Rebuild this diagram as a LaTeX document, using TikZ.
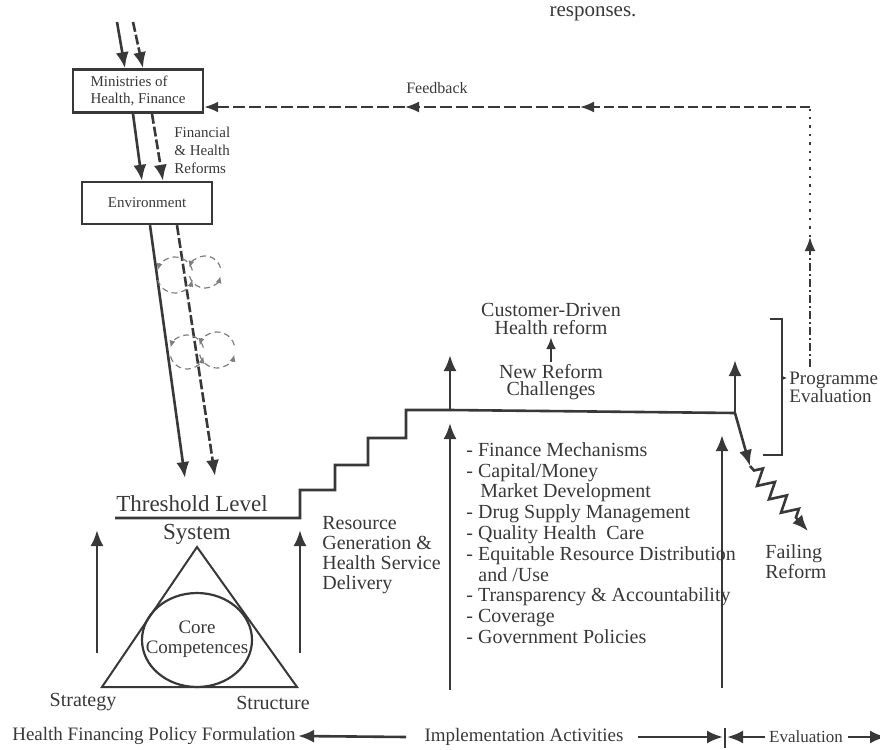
\documentclass[tikz,border=0pt]{standalone}
\usepackage{fontspec}
\setmainfont{Liberation Serif}
\usetikzlibrary{arrows.meta,decorations.pathmorphing}
\definecolor{ink}{HTML}{383838}
\tikzset{
  box/.style={draw=ink, line width=1.2pt, minimum width=65pt, minimum height=21pt,
    text=ink, font=\fontsize{7.5}{8.5}\selectfont, align=left},
  lbl/.style={text=ink, font=\fontsize{10}{10}\selectfont, align=center, inner sep=1pt},
  small/.style={text=ink, font=\fontsize{7.5}{9}\selectfont, align=left, inner sep=1pt},
  arr/.style={draw=ink, line width=1.3pt, -{Latex[length=8pt,width=6.5pt]}},
  dasharr/.style={arr, dash pattern=on 5pt off 1.5pt},
  line/.style={draw=ink, line width=1pt},
  fbline/.style={draw=ink, line width=1pt},
  cyc/.style={draw=ink!65, line width=0.6pt, densely dashed, -{Latex[length=3.5pt,width=3pt]}},
}
\begin{document}
\begin{tikzpicture}[x=0.5pt,y=-0.5pt]
  \useasboundingbox (0,0) rectangle (880,750);
  \node (resp) [text=ink, font=\fontsize{10.5}{11}\selectfont, inner sep=0pt] at (593,14) {responses.};

  % top boxes
  \node (min) [box] at (138,91) {Ministries of\\Health, Finance};
  \node (env) [box, align=center] at (147,203) {Environment};
  \coordinate (topA) at (117,22);
  \coordinate (topB) at (133,22);
  \draw[arr] (topA) -- ([shift={(-13,0)}]min.north);
  \draw[dasharr] (topB) -- ([shift={(5,0)}]min.north);
  \draw[arr] ([shift={(-5,0)}]min.south) -- ([shift={(-5,0)}]env.north);
  \draw[dasharr] ([shift={(14,0)}]min.south) -- ([shift={(16,0)}]env.north);
  \node (fin) [small, anchor=west] at (172,150) {Financial\\\& Health\\Reforms};

  % feedback loop
  \coordinate (fbB) at (810,367);
  \coordinate (fbUp) at (810,237);
  \coordinate (fbC) at (810,107);
  \coordinate (fbM2) at (580,107);
  \coordinate (fbM1) at (405,107);
  \draw[fbline, dash pattern=on 4pt off 1.5pt on 1pt off 1.5pt, -{Latex[length=7pt,width=5.5pt]}] (fbB) -- (fbUp);
  \draw[fbline, dash pattern=on 1.2pt off 3pt] (fbUp) -- (fbC);
  \draw[fbline, dash pattern=on 5pt off 2pt, -{Latex[length=7pt,width=5.5pt]}] (fbC) -- (fbM2);
  \draw[fbline, dash pattern=on 6pt off 2pt, -{Latex[length=7pt,width=5.5pt]}] (fbM2) -- (fbM1);
  \draw[fbline, dash pattern=on 6pt off 2pt, -{Latex[length=7pt,width=5.5pt]}] (fbM1) -- ([shift={(0,16)}]min.east);
  \node (fb) [lbl, font=\fontsize{8}{8}\selectfont] at (437,88) {Feedback};

  % environment to threshold
  \coordinate (thA) at (185,478);
  \coordinate (thB) at (215,476);
  \draw[arr] ([shift={(3,0)}]env.south) -- (thA);
  \draw[dasharr] ([shift={(30,0)}]env.south) -- (thB);
  \foreach \cx/\cy/\r in {175/275/9, 205/272/8, 187/352/8.5, 217/350/9} {
    \draw[cyc] ([shift={(15:\r pt)}]\cx,\cy) arc[start angle=15, end angle=165, radius=\r pt];
    \draw[cyc] ([shift={(195:\r pt)}]\cx,\cy) arc[start angle=195, end angle=345, radius=\r pt];
  }

  % staircase
  \coordinate (plat) at (450,410);
  \coordinate (platR) at (735,413);
  \draw[line, line width=1.3pt] (115,518) -- (300,518) -- (300,490) -- (335,490) -- (335,465)
    -- (368,465) -- (368,438) -- (406,438) -- (406,410) -- (plat) -- (platR);
  \node (thr) [lbl, font=\fontsize{11.5}{12}\selectfont] at (192,504) {Threshold Level};

  % system triangle
  \node (sys) [lbl, font=\fontsize{11.5}{12}\selectfont] at (197,534) {System};
  \draw[line, line width=1pt] (197,547) -- (297,687) -- (102,687) -- cycle;
  \draw[line, line width=1.1pt] (197,640) ellipse [x radius=27.5pt, y radius=23.5pt];
  \node (core) [lbl, font=\fontsize{9.5}{10}\selectfont] at (197,639) {Core\\Competences};
  \node (strat) [lbl] at (83,702) {Strategy};
  \node (struc) [lbl] at (273,703) {Structure};
  \coordinate (upL) at (97,653);
  \coordinate (upR) at (300,653);
  \draw[arr] (upL) -- (97,530);
  \draw[arr] (upR) -- (300,530);
  \node (res) [lbl, anchor=west, align=left] at (320,555) {Resource\\Generation \&\\Health Service\\Delivery};

  % implementation activities
  \coordinate (actL) at (450,690);
  \coordinate (actR) at (722,688);
  \draw[arr] (actL) -- (450,423);
  \draw[arr] (actR) -- (722,435);
  \node (acts) [lbl, anchor=west, align=left, font=\fontsize{10}{10.4}\selectfont] at (464,543)
    {- Finance Mechanisms\\- Capital/Money\\\hspace*{7pt}Market Development\\- Drug Supply Management\\
     - Quality Health~ Care\\- Equitable Resource Distribution\\\hspace*{6pt}and /Use\\
     - Transparency \& Accountability\\- Coverage\\- Government Policies};

  % new reform
  \node (newref) [lbl, font=\fontsize{10}{8.5}\selectfont] at (551,382) {New Reform\\Challenges};
  \node (cust) [lbl, font=\fontsize{10}{9}\selectfont] at (551,319) {Customer-Driven\\Health reform};
  \draw[arr] (plat) -- (450,355);
  \draw[arr, -{Latex[length=6pt,width=5pt]}] (newref.north) -- (cust.south);
  \draw[arr] (platR) -- (735,360);

  % failing reform
  \coordinate (failA) at (750,466);
  \coordinate (failB) at (808,531);
  \draw[arr] (platR) -- (failA);
  \draw[arr, decorate, decoration={zigzag, segment length=9pt, amplitude=4pt, pre length=3pt, post length=7pt}]
    (failA) -- (failB);
  \node (fail) [lbl, anchor=west, align=left] at (763,562) {Failing\\Reform};

  % programme evaluation bracket
  \draw[line, line width=1.2pt] (770,319) -- (782,319) -- (782,455) -- (763,455);
  \node (prog) [lbl, anchor=west, align=left, font=\fontsize{9.5}{9}\selectfont] at (787,387) {Programme\\Evaluation};
  \draw[line, -{Latex[length=3pt,width=3pt]}] (782,378) -- ([shift={(0,-9)}]prog.west);

  % bottom row
  \node (hfp) [lbl, font=\fontsize{9.5}{10}\selectfont] at (154,736) {Health Financing Policy Formulation};
  \node (impl) [lbl, font=\fontsize{9.5}{10}\selectfont] at (524,737) {Implementation Activities};
  \node (eval) [lbl, font=\fontsize{8.5}{9}\selectfont] at (806,737) {Evaluation};
  \coordinate (tick) at (725,737);
  \coordinate (evend) at (886,737);
  \draw[arr] ([shift={(-16,0)}]impl.west) -- (hfp.east);
  \draw[arr] ([shift={(12,0)}]impl.east) -- ([shift={(-2,0)}]tick);
  \draw[arr] ([shift={(-2,0)}]eval.west) -- ([shift={(2,0)}]tick);
  \draw[line] ([shift={(0,-9)}]tick) -- ([shift={(0,11)}]tick);
  \draw[arr] ([shift={(3,0)}]eval.east) -- (evend);
\end{tikzpicture}
\end{document}
